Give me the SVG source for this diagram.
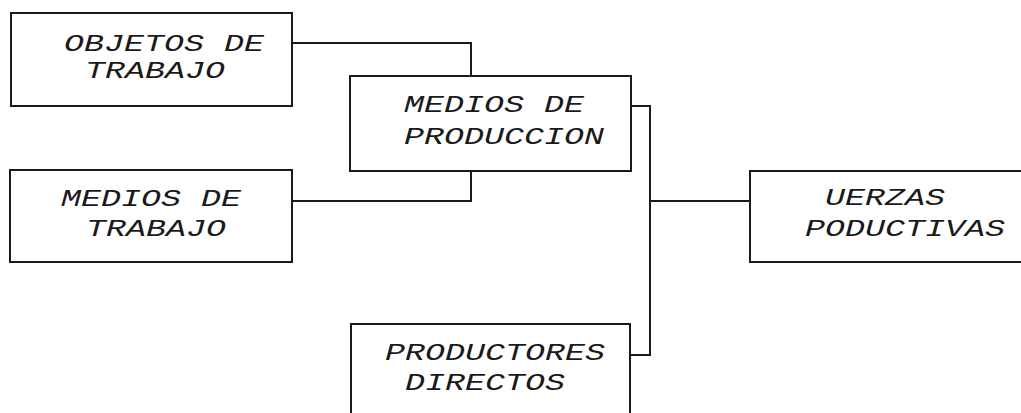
<svg xmlns="http://www.w3.org/2000/svg" width="1021" height="413" viewBox="0 0 1021 413">
<style>
.box{fill:none;stroke:#1a1a1a;stroke-width:2}
.conn{fill:none;stroke:#1a1a1a;stroke-width:2}
text{font-family:"Liberation Mono","Courier New",monospace;font-style:italic;font-size:24px;fill:#1a1a1a}
</style>
<rect width="1021" height="413" fill="#ffffff"/>
<g id="connectors">
<polyline class="conn" points="292,43 471,43 471,76"/>
<polyline class="conn" points="471,171 471,201 292,201"/>
<polyline class="conn" points="631,106 650,106 650,355 630,355"/>
<line class="conn" x1="650" y1="201" x2="750" y2="201"/>
</g>
<g id="objetos">
<rect class="box" x="11" y="13" width="281" height="93"/>
<text transform="translate(64,51) scale(1.39,1)">OBJETOS DE</text>
<text transform="translate(85,78) scale(1.39,1)">TRABAJO</text>
</g>
<g id="medios-produccion">
<rect class="box" x="350" y="76" width="281" height="95"/>
<text transform="translate(404,112) scale(1.39,1)">MEDIOS DE</text>
<text transform="translate(404,144) scale(1.39,1)">PRODUCCION</text>
</g>
<g id="medios-trabajo">
<rect class="box" x="10" y="170" width="282" height="92"/>
<text transform="translate(61,206) scale(1.39,1)">MEDIOS DE</text>
<text transform="translate(86,236) scale(1.39,1)">TRABAJO</text>
</g>
<g id="fuerzas">
<rect class="box" x="750" y="171" width="290" height="91"/>
<text transform="translate(825,205) scale(1.39,1)">UERZAS</text>
<text transform="translate(805,236) scale(1.39,1)">PODUCTIVAS</text>
</g>
<g id="productores">
<rect class="box" x="351" y="324" width="279" height="110"/>
<text transform="translate(385,360) scale(1.39,1)">PRODUCTORES</text>
<text transform="translate(405,390) scale(1.39,1)">DIRECTOS</text>
</g>
</svg>
